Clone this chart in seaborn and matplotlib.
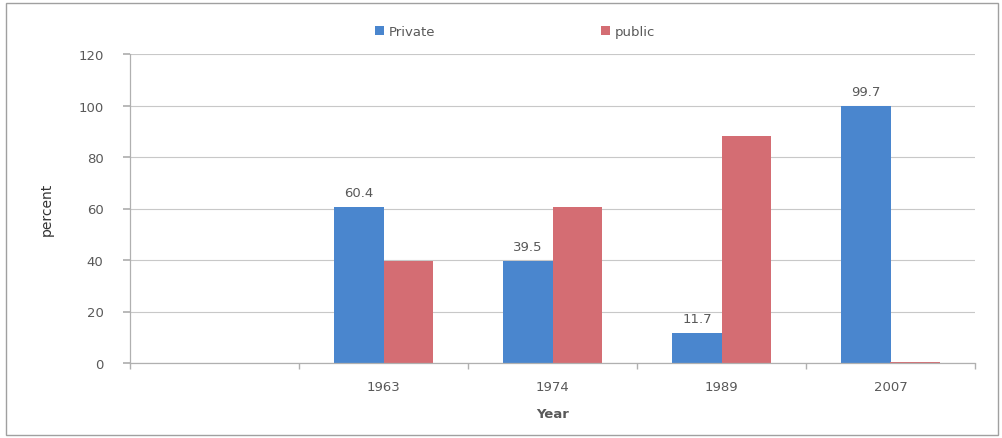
import matplotlib
matplotlib.use("Agg")
import matplotlib.pyplot as plt
import seaborn as sns
import pandas as pd
import numpy as np
from matplotlib.patches import Rectangle

years = ["", "1963", "1974", "1989", "2007"]
private = [np.nan, 60.4, 39.5, 11.7, 99.7]
public = [np.nan, 39.6, 60.5, 88.3, 0.3]
private_labels = ["60.4", "39.5", "11.7", "99.7"]
series = ["Private", "public"]
colors = ["#4A86CE", "#D46D73"]

df = pd.DataFrame({
    "Year": years * 2,
    "percent": private + public,
    "sector": [series[0]] * len(years) + [series[1]] * len(years),
})

sns.set_theme(style="white")
plt.rcParams['font.family'] = ['DejaVu Sans']

fig = plt.figure(figsize=(10.02, 4.39), dpi=100)
ax = fig.add_axes([130/1002, 1-364/439, 845/1002, 309/439])

sns.barplot(data=df, x="Year", y="percent", hue="sector", order=years,
            hue_order=series, palette=colors, width=0.58, saturation=1,
            ax=ax, legend=True, errorbar=None, linewidth=0, edgecolor="none")

gray = "#595959"
ax.set_ylim(0, 120)
ax.set_yticks(range(0, 121, 20))
ax.set_xlim(-0.5, len(years) - 0.5)
ax.yaxis.grid(True, color="#C8C8C8", linewidth=0.8)
ax.set_axisbelow(True)
for s in ["top", "right"]:
    ax.spines[s].set_visible(False)
for s in ["left", "bottom"]:
    ax.spines[s].set_color("#B0B0B0")
    ax.spines[s].set_linewidth(0.9)
ax.tick_params(axis="both", colors=gray, labelsize=9.5)
ax.tick_params(axis="y", left=True, length=5, direction="out", color="#B0B0B0", pad=14)
ax.set_xticks(np.arange(len(years)))
ax.set_xticks(np.arange(-0.5, len(years), 1.0), minor=True)
ax.tick_params(axis="x", which="minor", bottom=True, length=4, color="#B0B0B0", direction="out")
ax.tick_params(axis="x", which="major", bottom=False, length=0, pad=12)

ax.set_xlabel("Year", color=gray, fontsize=9.5, fontweight="bold", labelpad=10)
ax.set_ylabel("percent", color="#333333", fontsize=10)
ax.yaxis.set_label_coords((54 - 130) / 845, 0.5)

cont = ax.containers[0]
ax.bar_label(cont, labels=private_labels if len(cont) == len(private_labels) else [""] + private_labels,
             padding=6, fontsize=9.5, color=gray)

handles, labels = ax.get_legend_handles_labels()
ax.get_legend().remove()
fig.legend(handles, labels, loc="center", bbox_to_anchor=(0.514, 0.925), ncol=2,
           frameon=False, fontsize=9.5, handlelength=0.7, handleheight=0.7,
           handletextpad=0.4, columnspacing=12.5, labelcolor=gray)

fig.patches.append(Rectangle((0.006, 0.006), 0.99, 0.985, transform=fig.transFigure,
                             fill=False, edgecolor="#A0A0A0", linewidth=1))

fig.savefig("out.png", dpi=100)
